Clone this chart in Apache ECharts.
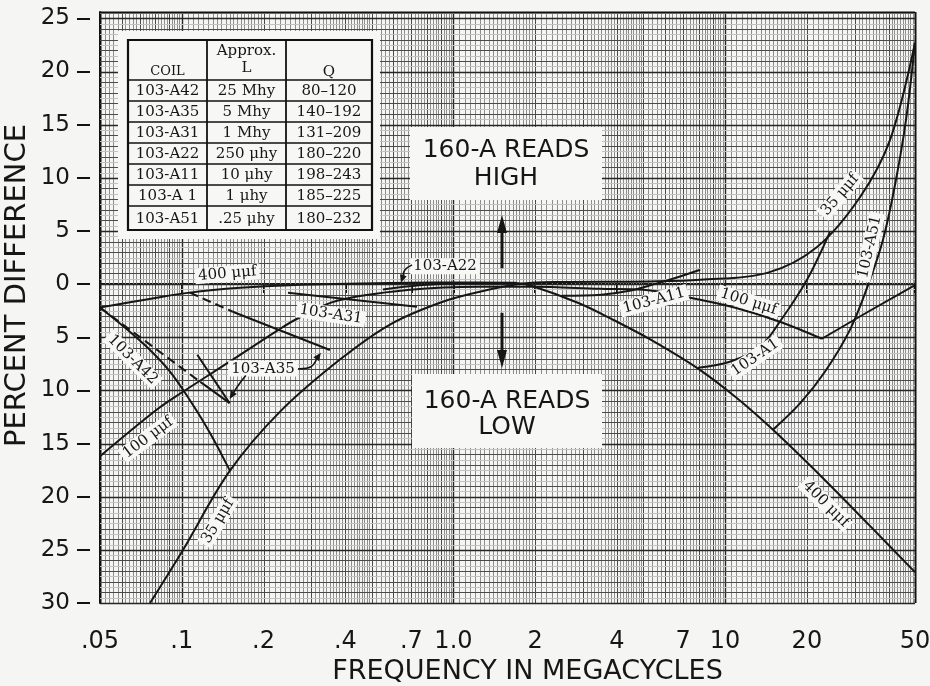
<!DOCTYPE html>
<html><head><meta charset="utf-8">
<script src="https://cdn.jsdelivr.net/npm/echarts@6/dist/echarts.min.js"></script>
<style>html,body{margin:0;padding:0;background:#f5f5f3;}#c{width:930px;height:686px;}</style>
</head><body><div id="c"></div>
<script>
// ---------- axis ticks ----------
const xTickValues = [0.05, 0.1, 0.2, 0.4, 0.7, 1, 2, 4, 7, 10, 20, 50];
const xTickText = ['.05', '.1', '.2', '.4', '.7', '1.0', '2', '4', '7', '10', '20', '50'];
const yTickValues = [-30, -25, -20, -15, -10, -5, 0, 5, 10, 15, 20, 25];

// ---------- curves: [frequency MHz, percent difference] ----------
const cap400 = [[0.05,-2.2],[0.076,-1.4],[0.107,-0.8],[0.164,-0.35],[0.25,-0.1],[0.58,0.1],[1.25,0.15],[1.7,0.1],[1.96,-0.2],[2.9,-1.8],[3.9,-3.4],[5.3,-5.2],[7.9,-7.9],[10.9,-10.6],[15,-13.7],[22.4,-18],[34,-22.7],[50,-27.1]];
const cap100 = [[0.05,-16.2],[0.081,-11.8],[0.1,-10.2],[0.15,-7.3],[0.224,-4.4],[0.266,-3.26],[0.373,-1.57],[0.692,-0.54],[1.25,-0.25],[1.96,-0.25],[3.46,-0.44],[5.0,-0.54],[7.43,-1.29],[10.9,-2.23],[15.9,-3.54],[22.7,-5.14]];
const cap100End = [[22.7,-5.14],[33.6,-2.6],[50,-0.1]];
const cap35 = [[0.0764,-30],[0.1,-25.2],[0.15,-17.6],[0.23,-12.0],[0.382,-7.1],[0.584,-3.8],[0.892,-1.75],[1.25,-0.72],[1.8,0.05],[2.47,0.2],[5.3,0.25],[8.1,0.4],[14.3,1.06],[21.8,3.5],[31.4,8.2],[40.5,13.6],[50,22.7]];
const coilA42 = [[0.05,-2.2],[0.0618,-4.1],[0.0764,-6.2],[0.0905,-8.24],[0.107,-10.9],[0.127,-14.0],[0.15,-17.5]];
const coilA35LowDash = [[0.05,-2.2],[0.117,-9.2]];
const coilA35LowSolid = [[0.117,-9.2],[0.15,-11.2]];
const coilA35Steep = [[0.114,-6.65],[0.15,-11.2]];
const coilA35UpDash = [[0.107,-0.8],[0.154,-2.6]];
const coilA35UpSolid = [[0.154,-2.6],[0.351,-6.2]];
const coilA31 = [[0.246,-0.82],[0.734,-2.13]];
const coilA22 = [[0.55,-0.5],[0.75,-0.1],[1.1,0.1],[1.7,0.12]];
const coilA11 = [[2.5,-1.1],[3.5,-1.0],[4.5,-0.6],[5.5,0.0],[6.6,0.6],[8.1,1.35]];
const coilA1 = [[7.95,-7.86],[10.4,-7.3],[13.4,-5.94],[15.9,-3.54],[20.0,0.4],[24.3,4.9]];
const coilA51 = [[15,-13.7],[18.9,-11.2],[23.3,-8.24],[28.8,-4.3],[33.6,-0.07],[38.1,4.16],[42.2,9.33],[46.3,15.4],[50,22.7]];

// ---------- table ----------
const tableCoil = ['103-A42','103-A35','103-A31','103-A22','103-A11','103-A 1','103-A51'];
const tableL = ['25 Mhy','5 Mhy','1 Mhy','250 μhy','10 μhy','1 μhy','.25 μhy'];
const tableQ = ['80–120','140–192','131–209','180–220','198–243','185–225','180–232'];

// ---------- curve labels: text, [freq, value], rotation ----------
const labelText = ['400 μμf','103-A42','103-A35','103-A31','103-A22','100 μμf','35 μμf','35 μμf','103-A51','103-A11','100 μμf','103-A1','400 μμf'];
const labelAt = [[0.147,0.97],[0.066,-7.1],[0.199,-7.95],[0.354,-2.85],[0.931,1.67],[0.0751,-14.45],[0.136,-22.3],[26.5,8.4],[34.1,3.5],[5.47,-1.57],[12.2,-1.66],[12.9,-6.9],[23.5,-20.7]];
const labelRot = [0.08,-0.78,0,-0.15,0,0.64,1.03,0.86,1.35,0.26,-0.3,0.6,-0.78];

// arrows (data coords)
const arrowA35L = [[0.172,-8.6],[0.161,-9.56],[0.150,-10.8]];
const arrowA35R = [[0.268,-7.96],[0.299,-7.77],[0.325,-6.46]];
const arrowA22 = [[0.704,1.81],[0.663,1.34],[0.641,0.12]];
const arrowHigh = [[1.509,1.5],[1.509,6.5]];
const arrowLow = [[1.509,-2.7],[1.509,-7.9]];

const X_MIN = 0.05, X_MAX = 50, Y_MIN = -30, Y_MAX = 25.6;

// graph paper rulings
const vLines = [];
[0.01, 0.1, 1, 10].forEach(dec => {
  for (let m = 100; m < 1000; m += (m < 200 ? 5 : (m < 500 ? 10 : 20))) {
    const v = +(dec * m / 100).toPrecision(6);
    if (v < X_MIN - 1e-9 || v > X_MAX + 1e-9) continue;
    const w = (m === 100) ? 2 : (m % 100 === 0 ? 1 : 0);
    vLines.push([v, 0, w]);
  }
});
vLines.push([X_MIN, 0, 3]); vLines.push([X_MAX, 0, 3]);
const hLines = [];
for (let k = Y_MIN * 2; k <= 51; k++) {
  const y = k / 2;
  const w = (y % 5 === 0) ? 2 : (Number.isInteger(y) ? 1 : 4);
  hLines.push([1, y, w]);
}
hLines.push([1, Y_MAX, 3]);

const GCOL = ['#8e8e8e', '#4a4a4a', '#262626', '#111', '#c2c2c2'];
const GW = [1, 1, 1.4, 2, 1];

function vItem(params, api) {
  const x = api.value(0), w = api.value(2);
  const a = api.coord([x, Y_MIN]), b = api.coord([x, Y_MAX]);
  const px = Math.round(a[0]) + 0.5;
  return {type: 'line', shape: {x1: px, y1: a[1], x2: px, y2: b[1]}, style: {stroke: GCOL[w], lineWidth: GW[w]}};
}
function hItem(params, api) {
  const y = api.value(1), w = api.value(2);
  const a = api.coord([X_MIN, y]), b = api.coord([X_MAX, y]);
  const py = Math.round(a[1]) + 0.5;
  return {type: 'line', shape: {x1: a[0], y1: py, x2: b[0], y2: py}, style: {stroke: GCOL[w], lineWidth: GW[w]}};
}

const INK = '#161616';
function curve(name, data, opts) {
  opts = opts || {};
  return {
    type: 'line', name: name, data: data, showSymbol: false, symbol: 'none',
    smooth: opts.smooth === undefined ? 0.35 : opts.smooth, silent: true, z: 5,
    lineStyle: {color: INK, width: 2, type: opts.dash ? [9, 5] : 'solid'}
  };
}

const chart = echarts.init(document.getElementById('c'), null, {width: 930, height: 686});
const option = {
  backgroundColor: '#f5f5f3',
  animation: false,
  grid: {left: 100, right: 15, top: 12, bottom: 83, containLabel: false, outerBoundsMode: 'none'},
  xAxis: [
    {type: 'log', logBase: 10, min: X_MIN, max: X_MAX, position: 'bottom',
     axisLine: {show: true, lineStyle: {color: '#111', width: 2}},
     axisTick: {show: false}, axisLabel: {show: false}, splitLine: {show: false}},
    {type: 'log', logBase: 10, min: X_MIN, max: X_MAX, position: 'bottom', offset: 12,
     axisLine: {show: false},
     axisTick: {show: true, customValues: xTickValues, length: 9, lineStyle: {color: '#111', width: 2}},
     axisLabel: {show: true, customValues: xTickValues, margin: 15, color: '#161616',
       fontFamily: 'DejaVu Sans', fontSize: 24,
       formatter: v => { const i = xTickValues.findIndex(t => Math.abs(t - v) / t < 1e-6); return i >= 0 ? xTickText[i] : ''; }},
     splitLine: {show: false},
     name: 'FREQUENCY IN MEGACYCLES', nameLocation: 'middle', nameGap: 39,
     nameTextStyle: {fontFamily: 'DejaVu Sans', fontSize: 27, color: '#161616', padding: [0, 0, 0, 40]}}
  ],
  yAxis: [
    {type: 'value', min: Y_MIN, max: Y_MAX, interval: 5, position: 'left',
     axisLine: {show: true, lineStyle: {color: '#111', width: 2}},
     axisTick: {show: false}, axisLabel: {show: false}, splitLine: {show: false}},
    {type: 'value', min: Y_MIN, max: Y_MAX, position: 'left', offset: 10,
     axisLine: {show: false},
     axisTick: {show: true, customValues: yTickValues, length: 13, lineStyle: {color: '#111', width: 2}},
     axisLabel: {show: true, customValues: yTickValues, margin: 20, color: '#161616',
       fontFamily: 'DejaVu Sans', fontSize: 23, formatter: v => String(Math.abs(v))},
     splitLine: {show: false},
     name: 'PERCENT DIFFERENCE', nameLocation: 'middle', nameGap: 58, nameRotate: 90, nameMoveOverlap: false,
     nameTextStyle: {fontFamily: 'DejaVu Sans', fontSize: 29, color: '#161616', padding: [0, 0, 0, 44]}}
  ],
  series: [
    {type: 'custom', name: 'paperV', data: vLines, renderItem: vItem, silent: true, z: 1, encode: {x: 0, y: 1}},
    {type: 'custom', name: 'paperH', data: hLines, renderItem: hItem, silent: true, z: 1, encode: {x: 0, y: 1}},
    curve('400 μμf', cap400),
    curve('100 μμf', cap100),
    curve('100 μμf end', cap100End, {smooth: false}),
    curve('35 μμf', cap35),
    curve('103-A42', coilA42),
    curve('103-A35 low dash', coilA35LowDash, {dash: true, smooth: false}),
    curve('103-A35 low', coilA35LowSolid, {smooth: false}),
    curve('103-A35 steep', coilA35Steep, {smooth: false}),
    curve('103-A35 up dash', coilA35UpDash, {dash: true, smooth: false}),
    curve('103-A35 up', coilA35UpSolid, {smooth: false}),
    curve('103-A31', coilA31, {smooth: false}),
    curve('103-A22', coilA22),
    curve('103-A11', coilA11),
    curve('103-A1', coilA1),
    curve('103-A51', coilA51)
  ]
};
chart.setOption(option);

// ---------- annotations ----------
const P = (d) => chart.convertToPixel({gridIndex: 0}, d);
const PAPER = '#f7f7f5';
const g = [];

function arrow(pts, headLen, headW, lw) {
  const px = pts.map(P);
  const n = px.length;
  const tip = px[n - 1], prev = px[n - 2];
  const dx = tip[0] - prev[0], dy = tip[1] - prev[1];
  const L = Math.sqrt(dx * dx + dy * dy) || 1;
  const ux = dx / L, uy = dy / L;
  const bx = tip[0] - ux * headLen, by = tip[1] - uy * headLen;
  const shaft = px.slice(0, n - 1).concat([[bx + ux * 1, by + uy * 1]]);
  g.push({type: 'polyline', z: 110, shape: {points: shaft, smooth: n > 2 ? 0.4 : 0}, style: {stroke: INK, lineWidth: lw, fill: null}});
  g.push({type: 'polygon', z: 110, shape: {points: [tip, [bx - uy * headW, by + ux * headW], [bx + uy * headW, by - ux * headW]]}, style: {fill: INK}});
}

// curve labels
labelText.forEach((t, i) => {
  const p = P(labelAt[i]);
  g.push({type: 'text', x: p[0], y: p[1], rotation: labelRot[i], z: 100,
    style: {text: t, font: '15px "DejaVu Serif"', fill: INK, align: 'center', verticalAlign: 'middle',
      backgroundColor: PAPER, padding: [1, 3, 0, 3]}});
});
arrow(arrowA35L, 8, 3.5, 1.6);
arrow(arrowA35R, 8, 3.5, 1.6);
arrow(arrowA22, 8, 3.5, 1.6);
arrow(arrowHigh, 18, 5, 3);
arrow(arrowLow, 18, 5, 3);

// big statement boxes
g.push({type: 'rect', z: 90, shape: {x: 410, y: 127, width: 192, height: 73}, style: {fill: PAPER}});
g.push({type: 'text', x: 506, y: 164, z: 100, style: {text: '160-A READS\nHIGH', font: '25px "DejaVu Sans"', fill: INK, align: 'center', verticalAlign: 'middle', lineHeight: 28}});
g.push({type: 'rect', z: 90, shape: {x: 412, y: 374, width: 190, height: 74}, style: {fill: PAPER}});
g.push({type: 'text', x: 507, y: 414, z: 100, style: {text: '160-A READS\nLOW', font: '25px "DejaVu Sans"', fill: INK, align: 'center', verticalAlign: 'middle', lineHeight: 26}});

// coil table
const tX = [128, 207, 286, 372], tTop = 40, tBot = 230;
const rowY = [80, 101, 122, 143, 164, 185, 206, 230];
g.push({type: 'rect', z: 90, shape: {x: 118, y: 31, width: 262, height: 208}, style: {fill: PAPER}});
g.push({type: 'rect', z: 95, shape: {x: tX[0], y: tTop, width: tX[3] - tX[0], height: tBot - tTop}, style: {fill: null, stroke: '#111', lineWidth: 2.2}});
[tX[1], tX[2]].forEach(x => g.push({type: 'line', z: 95, shape: {x1: x, y1: tTop, x2: x, y2: tBot}, style: {stroke: '#111', lineWidth: 1.8}}));
rowY.slice(0, 7).forEach(y => g.push({type: 'line', z: 95, shape: {x1: tX[0], y1: y, x2: tX[3], y2: y}, style: {stroke: '#111', lineWidth: 1.6}}));
const cx = [(tX[0] + tX[1]) / 2, (tX[1] + tX[2]) / 2, (tX[2] + tX[3]) / 2];
const tFont = '15px "DejaVu Serif"';
g.push({type: 'text', x: cx[0], y: 72, z: 100, style: {text: 'COIL', font: '13px "DejaVu Serif"', fill: INK, align: 'center', verticalAlign: 'middle'}});
g.push({type: 'text', x: cx[1], y: 60, z: 100, style: {text: 'Approx.\nL', font: tFont, fill: INK, align: 'center', verticalAlign: 'middle', lineHeight: 17}});
g.push({type: 'text', x: cx[2], y: 72, z: 100, style: {text: 'Q', font: tFont, fill: INK, align: 'center', verticalAlign: 'middle'}});
tableCoil.forEach((c, i) => {
  const y = (rowY[i] + rowY[i + 1]) / 2 + 1;
  [c, tableL[i], tableQ[i]].forEach((t, j) => g.push({type: 'text', x: cx[j], y: y, z: 100,
    style: {text: t, font: tFont, fill: INK, align: 'center', verticalAlign: 'middle'}}));
});

chart.setOption({graphic: {elements: g}});
</script></body></html>
